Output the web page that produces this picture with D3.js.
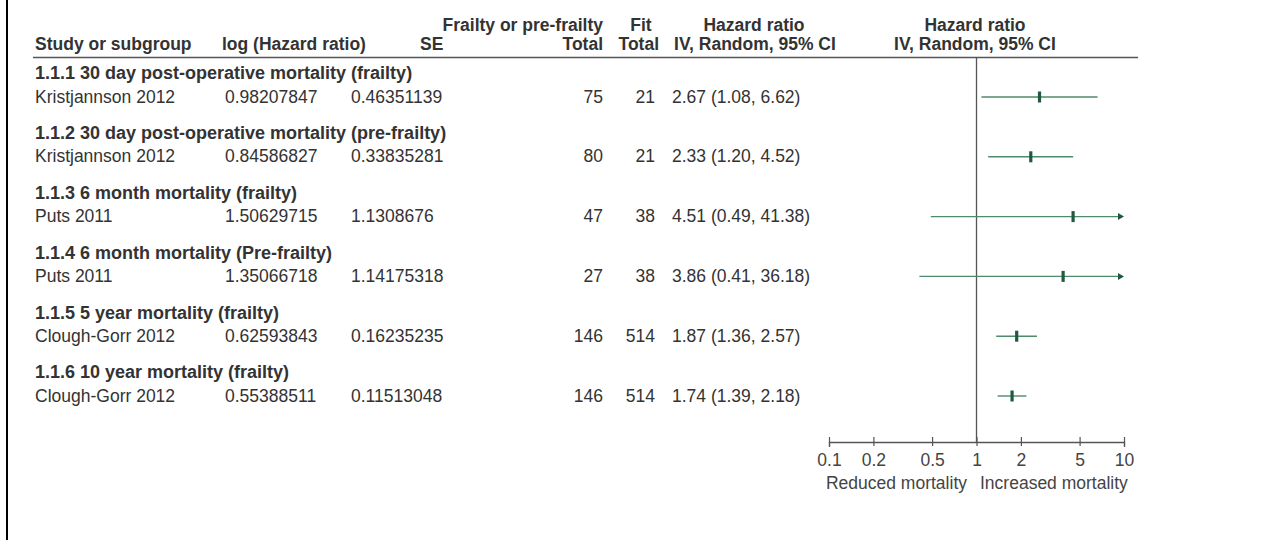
<!DOCTYPE html>
<html>
<head>
<meta charset="utf-8">
<script src="https://cdn.jsdelivr.net/npm/d3@7/dist/d3.min.js"></script>
<style>
  html, body { margin: 0; padding: 0; background: #fff; }
  svg text { font-family: "Liberation Sans", Arial, Helvetica, sans-serif; }
</style>
</head>
<body>
<svg id="chart" width="1277" height="540"></svg>
<script>
// Subgroup headings and the single study within each
const subgroups = [
  "1.1.1 30 day post-operative mortality (frailty)",
  "1.1.2 30 day post-operative mortality (pre-frailty)",
  "1.1.3 6 month mortality (frailty)",
  "1.1.4 6 month mortality (Pre-frailty)",
  "1.1.5 5 year mortality (frailty)",
  "1.1.6 10 year mortality (frailty)"
];
const studies = ["Kristjannson 2012", "Kristjannson 2012", "Puts 2011", "Puts 2011", "Clough-Gorr 2012", "Clough-Gorr 2012"];
const logHR = ["0.98207847", "0.84586827", "1.50629715", "1.35066718", "0.62593843", "0.55388511"];
const se = ["0.46351139", "0.33835281", "1.1308676", "1.14175318", "0.16235235", "0.11513048"];
const frailTotal = [75, 80, 47, 27, 146, 146];
const fitTotal = [21, 21, 38, 38, 514, 514];
const hr = [2.67, 2.33, 4.51, 3.86, 1.87, 1.74];
const ciLow = [1.08, 1.20, 0.49, 0.41, 1.36, 1.39];
const ciHigh = [6.62, 4.52, 41.38, 36.18, 2.57, 2.18];
const tickValues = [0.1, 0.2, 0.5, 1, 2, 5, 10];

const svg = d3.select("#chart");
const textCol = "#333";
const lineGreen = "#4f8a6c";
const boxGreen = "#1f5a3c";
const fs = 17.5;

// frame edge on the left
svg.append("rect").attr("x", 6).attr("y", 0).attr("width", 2).attr("height", 540).attr("fill", "#000");

// row positions
const rowY = d3.scaleLinear().domain([0, 5]).range([73, 372]);
const x = d3.scaleLog().domain([0.1, 10]).range([829, 1124]);

const hdr = svg.append("g").attr("fill", textCol).attr("font-weight", "bold").attr("font-size", fs);
const headerText = (t, xx, yy, anchor) =>
  hdr.append("text").attr("x", xx).attr("y", yy).attr("text-anchor", anchor || "start").attr("dy", "0.35em").text(t);
headerText("Study or subgroup", 35, 44);
headerText("log (Hazard ratio)", 222, 44);
headerText("SE", 420, 44);
headerText("Frailty or pre-frailty", 603, 25, "end");
headerText("Total", 603, 44, "end");
headerText("Fit", 641, 25, "middle");
headerText("Total", 659, 44, "end");
headerText("Hazard ratio", 754, 25, "middle");
headerText("IV, Random, 95% CI", 755, 44, "middle");
headerText("Hazard ratio", 975, 25, "middle");
headerText("IV, Random, 95% CI", 975, 44, "middle");

// rule under the header
svg.append("line").attr("x1", 33).attr("x2", 1138).attr("y1", 57.5).attr("y2", 57.5)
  .attr("stroke", "#555").attr("stroke-width", 1.5);

// line of no effect
svg.append("line").attr("x1", x(1)).attr("x2", x(1)).attr("y1", 57).attr("y2", 442)
  .attr("stroke", "#555").attr("stroke-width", 1.3);

const body = svg.append("g").attr("font-size", fs).attr("fill", textCol);
const dy = 23.5;

subgroups.forEach((g, i) => {
  const y0 = rowY(i);
  const y1 = y0 + dy;
  body.append("text").attr("x", 35).attr("y", y0).attr("dy", "0.35em").attr("font-weight", "bold")
    .attr("font-size", 18).text(g);
  body.append("text").attr("x", 35).attr("y", y1).attr("dy", "0.35em").text(studies[i]);
  body.append("text").attr("x", 225).attr("y", y1).attr("dy", "0.35em").text(logHR[i]);
  body.append("text").attr("x", 351).attr("y", y1).attr("dy", "0.35em").text(se[i]);
  body.append("text").attr("x", 603).attr("y", y1).attr("dy", "0.35em").attr("text-anchor", "end").text(frailTotal[i]);
  body.append("text").attr("x", 655).attr("y", y1).attr("dy", "0.35em").attr("text-anchor", "end").text(fitTotal[i]);
  body.append("text").attr("x", 672).attr("y", y1).attr("dy", "0.35em")
    .text(`${hr[i].toFixed(2)} (${ciLow[i].toFixed(2)}, ${ciHigh[i].toFixed(2)})`);
});

// confidence intervals and point estimates
const plot = svg.append("g");
const [dMin, dMax] = x.domain();
hr.forEach((v, i) => {
  const y = rowY(i) + dy + 0.5;
  const lo = Math.max(ciLow[i], dMin), hi = Math.min(ciHigh[i], dMax);
  const clippedHi = ciHigh[i] > dMax;
  plot.append("line").attr("x1", x(lo)).attr("x2", x(hi) - (clippedHi ? 4 : 0)).attr("y1", y).attr("y2", y)
    .attr("stroke", lineGreen).attr("stroke-width", 1.4);
  if (clippedHi) {
    const xe = x(hi);
    plot.append("path").attr("d", `M${xe - 6},${y - 3.5}L${xe},${y}L${xe - 6},${y + 3.5}Z`).attr("fill", boxGreen);
  }
  plot.append("rect").attr("x", x(v) - 1.5).attr("y", y - 5.5).attr("width", 3.2).attr("height", 11).attr("fill", boxGreen);
});

// log axis
const axis = svg.append("g").attr("transform", "translate(0,442)")
  .call(d3.axisBottom(x).tickValues(tickValues).tickFormat(d3.format("")).tickSizeOuter(0).tickSize(5));
axis.select(".domain").attr("stroke", "#555").attr("stroke-width", 1.3);
axis.selectAll(".tick line").attr("y1", -5).attr("y2", 4).attr("stroke", "#555").attr("stroke-width", 1.2);
axis.selectAll(".tick text").attr("y", 12).attr("font-size", fs).attr("fill", "#444")
  .attr("font-family", "Liberation Sans, Arial, sans-serif");

svg.append("text").attr("x", 967).attr("y", 483).attr("dy", "0.35em").attr("text-anchor", "end")
  .attr("font-size", fs).attr("fill", "#444").text("Reduced mortality");
svg.append("text").attr("x", 980).attr("y", 483).attr("dy", "0.35em")
  .attr("font-size", fs).attr("fill", "#444").text("Increased mortality");
</script>
</body>
</html>
